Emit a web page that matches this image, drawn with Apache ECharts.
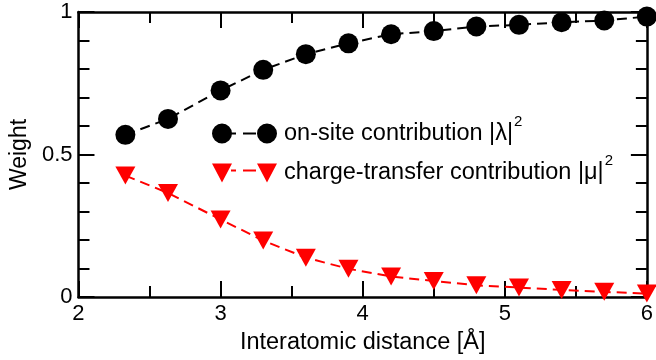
<!DOCTYPE html>
<html><head><meta charset="utf-8">
<script src="https://cdn.jsdelivr.net/npm/echarts@6/dist/echarts.min.js"></script>
<style>html,body{margin:0;padding:0;background:#fff}#c{width:656px;height:360px}</style>
</head><body><div id="c"></div>
<script>
// ---- data ----
const distances = [2.33, 2.63, 3.0, 3.3, 3.6, 3.9, 4.2, 4.5, 4.8, 5.1, 5.4, 5.7, 6.0];
const onSite = [0.569, 0.625, 0.725, 0.797, 0.852, 0.890, 0.922, 0.933, 0.949, 0.955, 0.964, 0.970, 0.984];
const chargeTransfer = [0.426, 0.365, 0.272, 0.198, 0.138, 0.099, 0.072, 0.056, 0.041, 0.033, 0.025, 0.018, 0.012];
const xRange = [2, 6];
const yRange = [0, 1];
const seriesNames = ['on-site contribution', 'charge-transfer contribution'];
const seriesSymbols = ['|λ|', '|μ|'];
const xTitle = 'Interatomic distance [Å]';
const yTitle = 'Weight';

const FONT = 'Liberation Sans, Arial, Helvetica, sans-serif';
const pairs = (xs, ys) => xs.map((x, i) => [x, ys[i]]);

const circleIcon = 'path://M0,10 A10,10 0 1,1 20,10 A10,10 0 1,1 0,10 Z M19,9 L24,9 L24,11 L19,11 Z M31,9 L44,9 L44,11 L31,11 Z M45,10 A10,10 0 1,1 65,10 A10,10 0 1,1 45,10 Z';
const triIcon = 'path://M0,0 L20,0 L10,19 Z M19,6 L24,6 L24,8 L19,8 Z M31,6 L44,6 L44,8 L31,8 Z M45,0 L65,0 L55,19 Z';

const tickCommon = {
  axisLine: { show: true, onZero: false, lineStyle: { color: '#000', width: 2.5 } },
  axisTick: { show: true, inside: true, length: 16, lineStyle: { color: '#000', width: 2 } },
  minorTick: { show: true, length: 11, lineStyle: { color: '#000', width: 2 } },
  splitLine: { show: false },
  minorSplitLine: { show: false }
};

const chart = echarts.init(document.getElementById('c'), null, { renderer: 'canvas' });
chart.setOption({
  animation: false,
  backgroundColor: '#fff',
  grid: { left: 76, right: 9, top: 12, bottom: 62, containLabel: false },
  legend: {
    orient: 'vertical',
    left: 207,
    top: 109,
    itemWidth: 65,
    itemHeight: 20,
    itemGap: 8,
    selectedMode: false,
    data: [
      { name: seriesNames[0], icon: circleIcon },
      { name: seriesNames[1], icon: triIcon }
    ],
    formatter: function (name) {
      const i = seriesNames.indexOf(name);
      return '{t|' + name + ' ' + seriesSymbols[i] + '}{s|2}';
    },
    textStyle: {
      color: '#000',
      fontFamily: FONT,
      fontSize: 23.5,
      rich: {
        t: { fontFamily: FONT, fontSize: 23.5, color: '#000', padding: [0, 0, 0, 2] },
        s: { fontFamily: FONT, fontSize: 15, color: '#000', padding: [0, 0, 24, 1] }
      }
    }
  },
  xAxis: [
    Object.assign({}, tickCommon, {
      type: 'value', position: 'bottom', min: xRange[0], max: xRange[1], interval: 1,
      minorTick: Object.assign({}, tickCommon.minorTick, { splitNumber: 2 }),
      axisLabel: { color: '#000', fontFamily: FONT, fontSize: 22, margin: 6 },
      name: xTitle, nameLocation: 'middle', nameGap: 34,
      nameTextStyle: { color: '#000', fontFamily: FONT, fontSize: 23.5 }
    }),
    Object.assign({}, tickCommon, {
      type: 'value', position: 'top', min: xRange[0], max: xRange[1], interval: 1,
      minorTick: Object.assign({}, tickCommon.minorTick, { splitNumber: 2 }),
      axisLabel: { show: false }
    })
  ],
  yAxis: [
    Object.assign({}, tickCommon, {
      type: 'value', position: 'left', min: yRange[0], max: yRange[1], interval: 0.5,
      minorTick: Object.assign({}, tickCommon.minorTick, { splitNumber: 5 }),
      axisLabel: { color: '#000', fontFamily: FONT, fontSize: 22, margin: 6 },
      name: yTitle, nameLocation: 'middle', nameGap: 46,
      nameTextStyle: { color: '#000', fontFamily: FONT, fontSize: 23 }
    }),
    Object.assign({}, tickCommon, {
      type: 'value', position: 'right', min: yRange[0], max: yRange[1], interval: 0.5,
      minorTick: Object.assign({}, tickCommon.minorTick, { splitNumber: 5 }),
      axisLabel: { show: false }
    })
  ],
  series: [
    {
      name: seriesNames[0], type: 'line', xAxisIndex: 0, yAxisIndex: 0,
      data: pairs(distances, onSite),
      symbol: 'circle', symbolSize: 20,
      itemStyle: { color: '#000' },
      lineStyle: { color: '#000', width: 2, type: [10, 6] },
      clip: false, z: 3
    },
    {
      name: seriesNames[1], type: 'line', xAxisIndex: 0, yAxisIndex: 0,
      data: pairs(distances, chargeTransfer),
      symbol: 'triangle', symbolSize: [20, 18], symbolRotate: 180,
      itemStyle: { color: '#ff0000' },
      lineStyle: { color: '#ff0000', width: 2, type: [10, 6] },
      clip: false, z: 3
    }
  ]
});
</script></body></html>
